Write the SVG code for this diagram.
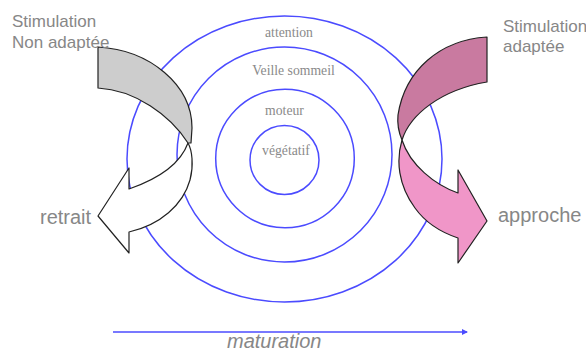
<svg xmlns="http://www.w3.org/2000/svg" width="586" height="352" viewBox="0 0 586 352">
<style>
.ring{fill:none;stroke:#4b4bff;stroke-width:1.5}
.lbl{font-family:"Liberation Serif",serif;font-size:13.7px;fill:#8a8a8a;text-anchor:middle}
.side{font-family:"Liberation Sans",Arial,sans-serif;fill:#878787}
.arr{stroke:#222;stroke-width:1.2;stroke-linejoin:round}
</style>
<defs>
<marker id="ah" viewBox="0 0 6 6" refX="5" refY="3" markerWidth="6" markerHeight="6" orient="auto" markerUnits="userSpaceOnUse">
<path d="M0,0 L6,3 L0,6 Z" fill="#4b4bff"/>
</marker>
</defs>
<rect width="586" height="352" fill="#fff"/>
<g id="rings">
<ellipse id="ring-attention" class="ring" cx="284.5" cy="159" rx="157.5" ry="143"/>
<circle id="ring-veille" class="ring" cx="284.5" cy="154.5" r="107.5"/>
<circle id="ring-moteur" class="ring" cx="285" cy="158.5" r="69.3"/>
<circle id="ring-vegetatif" class="ring" cx="284.5" cy="160" r="34.5"/>
</g>
<g id="ring-labels">
<text class="lbl" x="289" y="37">attention</text>
<text class="lbl" x="293.5" y="75">Veille sommeil</text>
<text class="lbl" x="284.5" y="115">moteur</text>
<text class="lbl" x="286" y="155">végétatif</text>
</g>
<g id="retrait-arrow">
<path class="arr" fill="#ffffff" d="M188,143 C192,150 194,165 190,180 C183,205 160,225 129,232 L129,253 L98,216 L129,168 L129,189 C155,180 180,165 188,143 Z"/>
<path class="arr" fill="#cdcdcd" d="M98,47 C150,50 192,85 192,128 L191,143 L188,143 C170,115 135,90 98,88 Z"/>
</g>
<g id="approche-arrow">
<path class="arr" fill="#f096c8" d="M402,140 C396,160 398,185 415,208 C425,222 440,232 458,238 L458,263 L487,221 L458,170 L458,193 C435,185 410,165 402,140 Z"/>
<path class="arr" fill="#c97aa0" d="M487,37 C440,40 405,70 398,115 C397,125 399,133 402,140 C410,115 440,90 487,82 Z"/>
</g>
<g id="texts">
<text class="side" x="12" y="27" font-size="17">Stimulation</text>
<text class="side" x="12" y="48" font-size="17">Non adaptée</text>
<text class="side" x="503" y="32" font-size="17">Stimulation</text>
<text class="side" x="503" y="52" font-size="17">adaptée</text>
<text class="side" x="40" y="224" font-size="20">retrait</text>
<text class="side" x="498" y="222" font-size="20">approche</text>
</g>
<g id="connectors">
<line x1="113" y1="332" x2="467" y2="332" stroke="#4b4bff" stroke-width="1.3" marker-end="url(#ah)"/>
</g>
<text class="side" x="227" y="348" font-size="20" font-style="italic">maturation</text>
</svg>
